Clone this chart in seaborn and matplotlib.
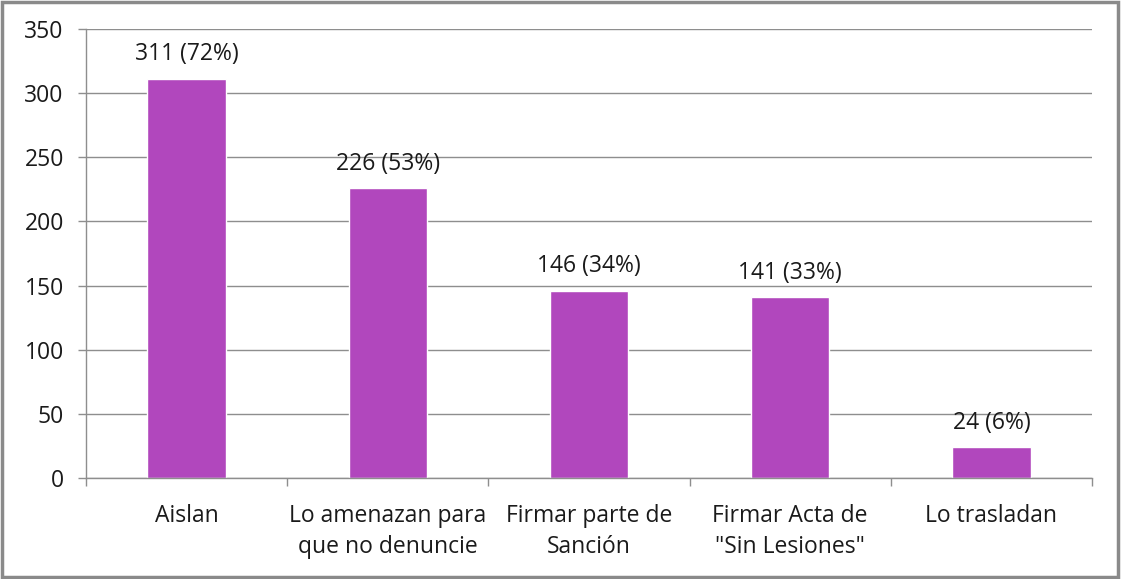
import matplotlib
matplotlib.use("Agg")
import matplotlib.pyplot as plt
import seaborn as sns
import numpy as np
from matplotlib.patches import Rectangle

# datos
categorias = ["Aislan", "Lo amenazan para\nque no denuncie", "Firmar parte de\nSanción",
              "Firmar Acta de\n\"Sin Lesiones\"", "Lo trasladan"]
valores = [311, 226, 146, 141, 24]
porcentajes = [72, 53, 34, 33, 6]
y_ticks = [0, 50, 100, 150, 200, 250, 300, 350]

sns.set_theme(style="white")
plt.rcParams['font.family'] = ['Open Sans', 'DejaVu Sans']

fig = plt.figure(figsize=(11.21, 5.79), dpi=100)
ax = fig.add_axes([0.0767, 0.1744, 0.8975, 0.7756])

sns.barplot(x=categorias, y=valores, color="#B147BD", saturation=1, width=0.39, ax=ax)

ax.set_ylim(0, 350)
ax.set_xlim(-0.5, len(categorias) - 0.5)
ax.set_yticks(y_ticks)
ax.yaxis.grid(True, color="#8E8E8E", linewidth=1)
ax.set_axisbelow(True)

for s in ["top", "right"]:
    ax.spines[s].set_visible(False)
for s in ["left", "bottom"]:
    ax.spines[s].set_color("#8E8E8E")
    ax.spines[s].set_linewidth(1)

ax.tick_params(axis="y", which="major", direction="out", length=6, width=1,
               color="#8E8E8E", labelsize=16.5, labelcolor="#1a1a1a", pad=10, left=True)
ax.tick_params(axis="x", which="major", length=0, labelsize=16.5, labelcolor="#1a1a1a", pad=19)
for lbl in ax.get_xticklabels():
    lbl.set_linespacing(1.35)
ax.set_xticks(np.arange(-0.5, len(categorias)), minor=True)
ax.tick_params(axis="x", which="minor", direction="out", length=6, width=1,
               color="#8E8E8E", bottom=True)

# etiquetas de valores
for i, (v, p) in enumerate(zip(valores, porcentajes)):
    ax.annotate(f"{v} ({p}%)", (i, v), xytext=(0, 9), textcoords="offset points",
                ha="center", va="bottom", fontsize=16.5, color="#1a1a1a")

ax.set_xlabel("")
ax.set_ylabel("")

# marco exterior
fig.patches.append(Rectangle((0.002, 0.003), 0.995, 0.994, transform=fig.transFigure,
                             fill=False, edgecolor="#8A8A8A", linewidth=2.5))

fig.savefig("out.png", dpi=100)
